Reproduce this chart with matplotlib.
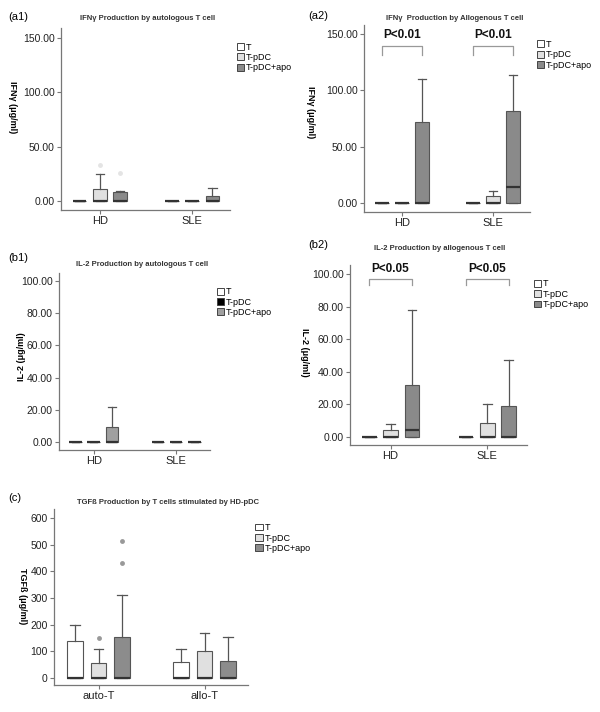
import numpy as np
import matplotlib
matplotlib.use("Agg")
import matplotlib.pyplot as plt
from matplotlib.patches import Patch

plt.rcParams['font.family'] = ['Liberation Sans', 'DejaVu Sans']

W, H = 600, 712
conds = ['T', 'T-pDC', 'T-pDC+apo']
groups_ab = ['HD', 'SLE']
groups_c = ['auto-T', 'allo-T']

# box stats: q3 (upper quartile), median, upper whisker; lower quartile is 0
a1_q3 = [[0, 11, 8], [0, 0, 5]]
a1_med = [[0, 0, 0], [0, 0, 0]]
a1_whi = [[0, 25, 9], [0, 0, 12]]
a1_fl = [[[], [33], [26]], [[], [], []]]

a2_q3 = [[0, 0, 72], [0, 6, 82]]
a2_med = [[0, 0, 0], [0, 0, 14]]
a2_whi = [[0, 0, 110], [0, 11, 114]]
a2_fl = [[[], [], []], [[], [], []]]

b1_q3 = [[0, 0, 9.5], [0, 0, 0]]
b1_med = [[0, 0, 0], [0, 0, 0]]
b1_whi = [[0, 0, 22], [0, 0, 0]]
b1_fl = [[[], [], []], [[], [], []]]

b2_q3 = [[0, 4, 32], [0, 8.5, 19]]
b2_med = [[0, 0, 4], [0, 0, 0]]
b2_whi = [[0, 8, 78], [0, 20, 47]]
b2_fl = [[[], [], []], [[], [], []]]

c_q3 = [[138, 55, 155], [60, 100, 65]]
c_med = [[0, 0, 0], [0, 0, 0]]
c_whi = [[200, 108, 310], [108, 168, 155]]
c_fl = [[[], [152], [430, 513]], [[], [], []]]

cols_std = ['white', '#e0e0e0', '#8a8a8a']
cols_b1 = ['white', 'black', '#a0a0a0']

fig = plt.figure(figsize=(W / 100, H / 100), dpi=100)


def px_axes(x0, y0, x1, y1):
    return fig.add_axes([x0 / W, 1 - y1 / H, (x1 - x0) / W, (y1 - y0) / H])


def ftext(x, y, s, **kw):
    fig.text(x / W, 1 - y / H, s, **kw)


def panel(rect, q3, med, whi, fl, cols, ylim, yticks, fmt, cats, flier_col='#999999'):
    ax = px_axes(*rect)
    offs = [-0.22, 0, 0.22]
    stats, pos, fcols = [], [], []
    for g in range(len(cats)):
        for k in range(3):
            stats.append(dict(med=med[g][k], q1=0, q3=q3[g][k], whislo=0,
                              whishi=whi[g][k], fliers=fl[g][k]))
            pos.append(g + offs[k])
            fcols.append(cols[k])
    bp = ax.bxp(stats, positions=pos, widths=0.15, capwidths=0.09,
                patch_artist=True, showfliers=True,
                boxprops=dict(edgecolor='#555555', linewidth=0.8),
                medianprops=dict(color='#333333', linewidth=1.6),
                whiskerprops=dict(color='#555555', linewidth=0.9),
                capprops=dict(color='#555555', linewidth=0.9),
                flierprops=dict(marker='o', markersize=3.5, markerfacecolor=flier_col,
                                markeredgecolor='none'))
    for b, c in zip(bp['boxes'], fcols):
        b.set_facecolor(c)
    ax.set_xlim(-0.42, 1.41)
    ax.set_ylim(*ylim)
    ax.set_yticks(yticks)
    ax.set_yticklabels([fmt % v for v in yticks])
    ax.set_xticks(range(len(cats)))
    ax.set_xticklabels(cats)
    for s in ['top', 'right']:
        ax.spines[s].set_visible(False)
    for s in ['left', 'bottom']:
        ax.spines[s].set_color('#777777')
        ax.spines[s].set_linewidth(0.9)
    ax.tick_params(labelsize=7.5, length=3, color='#777777', labelcolor='#222222', pad=1.5)
    ax.tick_params(axis='x', labelsize=8)
    handles = [Patch(facecolor=c, edgecolor='#444444', linewidth=0.7) for c in cols]
    ax.legend(handles, conds, loc='upper left', bbox_to_anchor=(1.02, 0.94),
              frameon=False, fontsize=6.5, handlelength=0.8, handleheight=0.8,
              handletextpad=0.2, labelspacing=0.15, borderaxespad=0)
    return ax


def bracket(ax, g, y_top, y_end, label):
    xs = [g - 0.22, g - 0.22, g + 0.22, g + 0.22]
    ax.plot(xs, [y_end, y_top, y_top, y_end], color='#999999', lw=0.9, clip_on=False)
    ax.text(g, y_top + (y_top - y_end) * 0.6, label, ha='center', va='bottom',
            fontsize=8.5, fontweight='bold', color='#111111', clip_on=False)


# (a1)
ax = panel((61, 28, 230, 210), a1_q3, a1_med, a1_whi, a1_fl, cols_std,
           (-8.3, 159), [0, 50, 100, 150], '%.2f', groups_ab, flier_col='#e4e4e4')
ftext(8, 17, '(a1)', fontsize=8, va='center')
ftext(148, 19, 'IFNγ Production by autologous T cell', fontsize=5.5, fontweight='bold',
      ha='center', va='center', color='#333333')
ftext(12, 107, 'IFNγ (μg/ml)', fontsize=6.5, fontweight='bold', rotation=-90,
      ha='center', va='center')

# (a2)
ax = panel((364, 25, 530, 212), a2_q3, a2_med, a2_whi, a2_fl, cols_std,
           (-8, 158), [0, 50, 100, 150], '%.2f', groups_ab)
for g in range(2):
    bracket(ax, g, 139, 131, 'P<0.01')
ftext(308, 16, '(a2)', fontsize=8, va='center')
ftext(455, 18, 'IFNγ  Production by Allogenous T cell', fontsize=5.5, fontweight='bold',
      ha='center', va='center', color='#333333')
ftext(310, 112, 'IFNγ (μg/ml)', fontsize=6.5, fontweight='bold', rotation=-90,
      ha='center', va='center')

# (b1)
ax = panel((59, 273, 210, 450), b1_q3, b1_med, b1_whi, b1_fl, cols_b1,
           (-5, 105), [0, 20, 40, 60, 80, 100], '%.2f', groups_ab)
ftext(8, 258, '(b1)', fontsize=8, va='center')
ftext(142, 265, 'IL-2 Production by autologous T cell', fontsize=5.5, fontweight='bold',
      ha='center', va='center', color='#333333')
ftext(22, 357, 'IL-2 (μg/ml)', fontsize=6.5, fontweight='bold', rotation=90,
      ha='center', va='center')

# (b2)
ax = panel((350, 265, 527, 445), b2_q3, b2_med, b2_whi, b2_fl, cols_std,
           (-4.9, 105.5), [0, 20, 40, 60, 80, 100], '%.2f', groups_ab)
for g in range(2):
    bracket(ax, g, 97, 93, 'P<0.05')
ftext(308, 245, '(b2)', fontsize=8, va='center')
ftext(440, 249, 'IL-2 Production by allogenous T cell', fontsize=5.5, fontweight='bold',
      ha='center', va='center', color='#333333')
ftext(305, 352, 'IL-2 (μg/ml)', fontsize=6.5, fontweight='bold', rotation=-90,
      ha='center', va='center')

# (c)
ax = panel((54, 509, 248, 685), c_q3, c_med, c_whi, c_fl, ['white', '#e0e0e0', '#8c8c8c'],
           (-26, 634), [0, 100, 200, 300, 400, 500, 600], '%d', groups_c)
ftext(8, 498, '(c)', fontsize=8, va='center')
ftext(168, 502, 'TGFß Production by T cells stimulated by HD-pDC', fontsize=5.5,
      fontweight='bold', ha='center', va='center', color='#333333')
ftext(22, 596, 'TGFß (μg/ml)', fontsize=6.5, fontweight='bold', rotation=-90,
      ha='center', va='center')

fig.savefig('out.png', dpi=100)
